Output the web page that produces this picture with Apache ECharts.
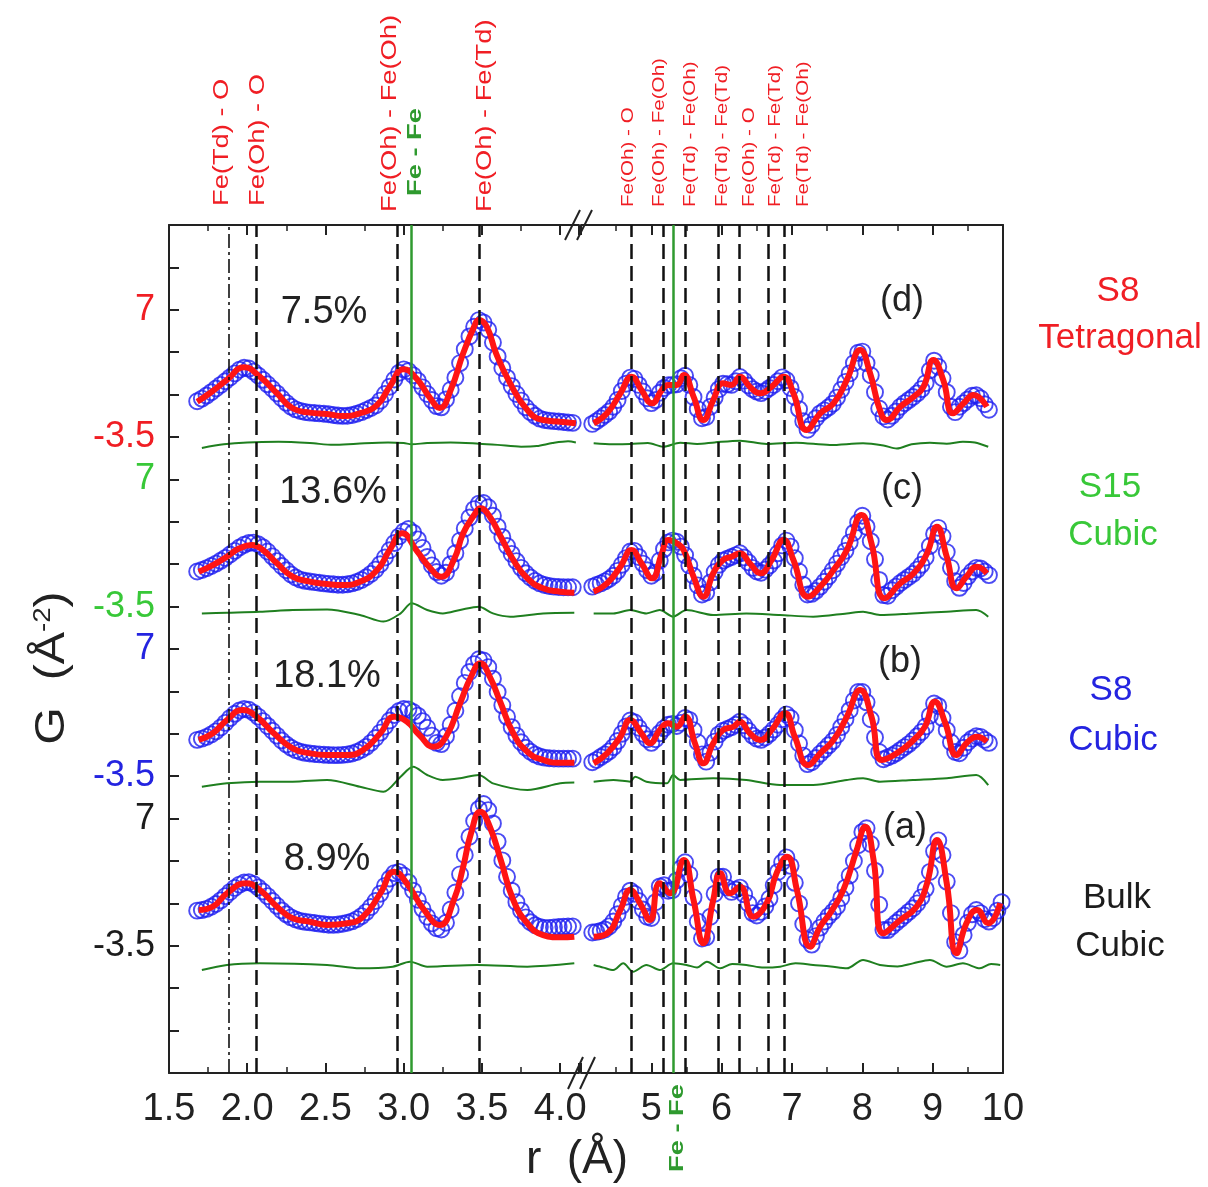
<!DOCTYPE html>
<html><head><meta charset="utf-8">
<script src="https://cdn.jsdelivr.net/npm/echarts@6/dist/echarts.min.js"></script>
<style>html,body{margin:0;padding:0;background:#fff}#c{width:1208px;height:1187px}</style>
</head><body><div id="c"></div>
<script>
// ---------------- DATA ----------------
// panels bottom -> top : (a) Bulk Cubic, (b) S8 Cubic, (c) S15 Cubic, (d) S8 Tetragonal
const panelKeys = ['a','b','c','d'];
const panelOffsets = [0, 14, 28, 42];          // stacking offsets in G units
const percentLabels = ['8.9%','18.1%','13.6%','7.5%'];
const panelLabels = ['(a)','(b)','(c)','(d)'];

// observed G(r) (blue circles) on uniform r grids
const obsLeftStart = 1.68, obsLeftStep = 0.03;   // 1.68 ... 4.08
const obsRightStart = 4.16, obsRightStep = 0.06; // 4.16 ... 9.80 (a: 9.98)

const obsLeftA = [
 -0.6,-0.55,-0.45,-0.28,-0.05,0.25,0.6,0.95,1.28,1.55,
 1.72,1.75,1.6,1.32,0.98,0.6,0.2,-0.2,-0.58,-0.9,
 -1.15,-1.33,-1.45,-1.52,-1.57,-1.62,-1.67,-1.72,-1.76,-1.77,
 -1.74,-1.68,-1.6,-1.48,-1.3,-1.05,-0.72,-0.3,0.2,0.8,
 1.45,2.05,2.5,2.6,2.3,1.75,1.05,0.3,-0.45,-1.1,
 -1.65,-2.05,-2.15,-1.6,-0.5,0.9,2.4,4.0,5.5,6.8,
 7.8,8.2,7.7,6.6,5.1,3.55,2.2,1.05,0.1,-0.6,
 -1.15,-1.55,-1.8,-1.95,-2.02,-2.02,-1.98,-1.95,-1.92,-1.9,
 -1.9];
const obsLeftB = [
 -0.5,-0.4,-0.25,-0.05,0.2,0.52,0.9,1.3,1.65,1.92,
 2.05,1.98,1.75,1.42,1.05,0.65,0.25,-0.15,-0.55,-0.88,
 -1.15,-1.35,-1.48,-1.57,-1.63,-1.67,-1.7,-1.73,-1.75,-1.76,
 -1.76,-1.74,-1.7,-1.62,-1.5,-1.32,-1.08,-0.75,-0.35,0.1,
 0.6,1.1,1.55,1.88,2.05,2.02,1.8,1.5,1.05,0.5,
 -0.15,-0.75,-0.85,-0.2,0.75,1.9,3.1,4.2,5.1,5.75,
 6.15,6.05,5.5,4.55,3.45,2.35,1.4,0.55,-0.15,-0.7,
 -1.15,-1.48,-1.72,-1.88,-1.97,-2.02,-2.04,-2.05,-2.05,-2.05,
 -2.05];
const obsLeftC = [
 -0.6,-0.48,-0.33,-0.15,0.05,0.28,0.52,0.8,1.1,1.38,
 1.6,1.75,1.78,1.65,1.4,1.05,0.65,0.25,-0.15,-0.5,
 -0.85,-1.1,-1.27,-1.37,-1.43,-1.48,-1.53,-1.58,-1.62,-1.66,
 -1.7,-1.7,-1.66,-1.58,-1.47,-1.3,-1.08,-0.8,-0.45,0.0,
 0.55,1.15,1.75,2.3,2.7,2.9,2.6,2.05,1.35,0.6,
 -0.1,-0.65,-0.95,-0.7,0.0,0.9,1.95,2.95,3.85,4.55,
 5.0,5.05,4.7,4.0,3.1,2.25,1.5,0.85,0.25,-0.3,
 -0.75,-1.1,-1.38,-1.58,-1.72,-1.8,-1.85,-1.88,-1.9,-1.9,
 -1.9];
const obsLeftD = [
 -0.55,-0.33,-0.08,0.2,0.5,0.8,1.1,1.42,1.75,2.05,
 2.22,2.15,1.9,1.58,1.22,0.85,0.48,0.1,-0.3,-0.68,
 -1.0,-1.22,-1.35,-1.44,-1.49,-1.52,-1.55,-1.58,-1.62,-1.68,
 -1.73,-1.76,-1.74,-1.68,-1.58,-1.45,-1.28,-1.1,-0.9,-0.5,
 0.05,0.65,1.25,1.8,2.08,1.95,1.6,1.15,0.6,0.05,
 -0.45,-0.95,-1.05,-0.4,0.4,1.4,2.6,3.75,4.8,5.6,
 6.15,5.95,5.35,4.3,3.15,2.2,1.4,0.7,0.05,-0.5,
 -1.05,-1.45,-1.75,-1.98,-2.1,-2.15,-2.19,-2.22,-2.26,-2.3,
 -2.33];

const obsRightA = [
 -2.4,-2.35,-2.28,-2.15,-1.9,-1.5,-0.9,-0.2,0.55,1.05,
 0.8,0.2,-0.5,-1.1,-1.2,0.1,1.4,1.5,1.05,1.1,
 1.9,2.9,3.4,2.4,0.5,-1.5,-2.9,-2.8,-1.1,0.8,
 2.2,2.2,1.3,0.95,1.15,1.3,0.75,0.0,-0.8,-1.0,
 -0.7,-0.25,0.4,1.5,2.6,3.4,3.8,3.1,1.7,0.0,
 -1.7,-3.0,-3.4,-2.7,-2.0,-1.5,-1.05,-0.7,-0.25,0.45,
 1.3,2.3,3.5,4.8,5.9,6.2,4.9,2.7,-0.1,-2.2,
 -2.2,-1.9,-1.6,-1.3,-1.0,-0.7,-0.4,0.0,0.5,1.2,
 2.6,4.3,5.2,4.0,1.8,-0.8,-3.2,-3.9,-2.6,-1.6,
 -0.9,-0.55,-0.8,-1.3,-1.5,-1.2,-0.6,0.1];
const obsRightB = [
 -2.35,-2.15,-1.92,-1.7,-1.45,-1.1,-0.6,0.0,0.6,1.1,
 0.95,0.5,0.0,-0.45,-0.75,-0.45,0.05,0.45,0.75,0.82,
 0.65,0.9,1.3,1.15,0.3,-0.7,-1.7,-2.3,-1.55,-0.65,
 -0.05,0.25,0.4,0.55,0.75,1.0,0.7,0.25,-0.15,-0.4,
 -0.5,-0.3,0.0,0.35,0.75,1.2,1.6,1.3,0.3,-0.8,
 -1.8,-2.5,-2.35,-2.0,-1.65,-1.3,-0.95,-0.6,-0.1,0.55,
 1.2,1.95,2.75,3.45,3.45,2.6,1.2,-0.3,-1.5,-2.1,
 -1.95,-1.8,-1.6,-1.35,-1.1,-0.85,-0.55,-0.2,0.15,0.6,
 1.5,2.5,2.3,1.3,0.3,-0.7,-1.5,-1.6,-1.15,-0.7,
 -0.4,-0.2,-0.25,-0.5,-0.75];
const obsRightC = [
 -1.85,-1.72,-1.58,-1.42,-1.22,-0.95,-0.55,-0.05,0.5,1.05,
 1.1,0.6,0.05,-0.5,-0.95,-0.7,0.3,1.25,1.8,1.95,
 1.85,1.45,0.75,-0.1,-0.95,-1.75,-2.5,-2.35,-1.5,-0.65,
 -0.05,0.3,0.45,0.6,0.75,0.9,0.55,0.15,-0.3,-0.6,
 -0.7,-0.45,-0.1,0.3,0.9,1.55,1.95,1.45,0.5,-0.6,
 -1.7,-2.5,-2.45,-2.2,-1.85,-1.45,-1.0,-0.5,0.05,0.6,
 1.1,1.8,2.6,3.45,4.0,3.1,1.9,0.4,-1.3,-2.55,
 -2.6,-2.15,-1.85,-1.55,-1.3,-1.05,-0.8,-0.45,-0.05,0.55,
 1.5,2.5,3.0,2.3,1.0,-0.3,-1.4,-1.95,-1.55,-1.0,
 -0.6,-0.3,-0.35,-0.6,-0.9];
const obsRightD = [
 -2.42,-2.2,-1.95,-1.68,-1.4,-1.0,-0.45,0.3,0.9,1.4,
 1.3,0.8,0.25,-0.3,-0.7,-0.45,0.15,0.55,0.78,0.8,
 0.85,1.35,1.55,0.8,-0.2,-1.2,-1.95,-1.85,-1.0,-0.25,
 0.45,0.9,0.85,0.8,1.1,1.45,1.15,0.75,0.45,0.25,
 0.12,0.3,0.55,0.8,1.1,1.42,1.2,0.55,-0.2,-1.2,
 -2.2,-2.9,-2.5,-1.95,-1.55,-1.3,-1.05,-0.75,-0.25,0.4,
 1.05,1.75,2.6,3.45,3.55,2.6,1.6,0.2,-1.15,-1.8,
 -2.05,-1.75,-1.4,-1.0,-0.7,-0.45,-0.2,0.1,0.45,0.95,
 2.0,2.8,2.3,1.35,0.2,-1.0,-1.45,-1.0,-0.7,-0.4,
 -0.1,-0.05,-0.3,-0.8,-1.25];

// fitted G(r) (red line), [r, G]
const fitLeftA = [[1.69,-0.54],[1.78,-0.27],[1.87,0.83],[1.99,1.66],[2.08,1.11],[2.19,-0.27],[2.29,-1.23],[2.40,-1.51],[2.51,-1.78],[2.64,-1.64],[2.74,-1.10],[2.85,0.83],[2.94,2.62],[3.02,1.66],[3.13,-0.54],[3.23,-1.78],[3.32,0.28],[3.38,3.03],[3.43,5.79],[3.49,7.57],[3.55,6.33],[3.62,3.58],[3.70,0.28],[3.79,-1.64],[3.89,-2.61],[4.00,-2.80],[4.09,-2.75]];
const fitLeftB = [[1.69,-0.51],[1.78,0.04],[1.87,1.14],[1.97,1.96],[2.06,1.41],[2.17,0.04],[2.29,-1.20],[2.40,-1.61],[2.51,-1.75],[2.64,-1.75],[2.74,-1.34],[2.85,0.04],[2.94,1.41],[3.02,1.00],[3.10,-0.10],[3.19,-1.06],[3.27,-0.24],[3.36,2.52],[3.43,4.71],[3.49,5.82],[3.55,4.71],[3.62,2.52],[3.70,0.04],[3.79,-1.48],[3.89,-2.16],[4.00,-2.39],[4.09,-2.39]];
const fitLeftC = [[1.69,-0.62],[1.78,-0.07],[1.87,0.62],[1.95,1.31],[2.03,1.58],[2.10,1.17],[2.19,0.07],[2.29,-1.03],[2.40,-1.44],[2.51,-1.63],[2.61,-1.72],[2.72,-1.44],[2.83,-0.48],[2.91,1.17],[2.99,2.55],[3.08,1.17],[3.17,-0.34],[3.24,-1.03],[3.32,0.35],[3.38,2.55],[3.45,4.06],[3.49,4.61],[3.55,3.92],[3.62,2.27],[3.70,0.35],[3.79,-1.16],[3.89,-1.99],[4.00,-2.27],[4.09,-2.35]];
const fitLeftD = [[1.68,-0.59],[1.76,0.11],[1.87,1.21],[1.98,2.25],[2.08,1.48],[2.19,0.11],[2.29,-1.13],[2.40,-1.49],[2.51,-1.60],[2.61,-1.77],[2.72,-1.54],[2.83,-0.86],[2.91,0.65],[3.00,2.10],[3.08,1.35],[3.17,-0.31],[3.23,-1.1],[3.30,0.38],[3.38,3.41],[3.45,5.61],[3.48,6.16],[3.53,5.61],[3.59,3.41],[3.68,0.93],[3.79,-1.27],[3.89,-2.10],[4.00,-2.24],[4.10,-2.37]];

const fitRightA = [[4.18,-2.75],[4.37,-2.47],[4.56,-0.54],[4.70,1.11],[4.84,0.01],[4.98,-1.37],[5.12,1.66],[5.27,0.83],[5.46,3.58],[5.60,0.28],[5.74,-3.29],[5.88,0.28],[5.98,2.48],[6.12,0.83],[6.26,1.38],[6.45,-1.10],[6.64,0.01],[6.78,2.48],[6.93,3.86],[7.07,1.11],[7.26,-3.57],[7.40,-1.92],[7.54,-0.82],[7.73,1.11],[7.92,4.41],[8.04,6.33],[8.16,3.58],[8.30,-2.47],[8.54,-1.37],[8.77,-0.27],[8.92,1.66],[9.06,5.23],[9.20,1.66],[9.34,-4.12],[9.48,-1.64],[9.63,-0.54],[9.79,-1.64],[9.96,0.01]];
const fitRightB = [[4.18,-2.44],[4.37,-1.61],[4.56,-0.24],[4.70,1.14],[4.86,0.04],[4.98,-0.78],[5.12,0.31],[5.24,0.87],[5.36,0.59],[5.48,1.41],[5.62,-0.78],[5.74,-2.44],[5.88,-0.78],[6.02,0.31],[6.17,0.59],[6.26,1.00],[6.40,0.04],[6.55,-0.51],[6.71,0.31],[6.90,1.69],[7.04,-0.24],[7.23,-2.58],[7.40,-1.61],[7.59,-0.51],[7.78,1.41],[7.97,3.62],[8.13,1.41],[8.28,-2.16],[8.49,-1.61],[8.73,-0.51],[8.89,0.59],[9.03,2.65],[9.18,0.87],[9.34,-1.75],[9.48,-0.78],[9.63,-0.24],[9.77,-0.65]];
const fitRightC = [[4.18,-2.27],[4.37,-1.58],[4.56,-0.21],[4.72,1.17],[4.86,0.07],[5.01,-1.16],[5.15,0.90],[5.24,2.00],[5.36,1.73],[5.46,1.17],[5.60,-1.03],[5.74,-2.68],[5.88,-0.75],[6.02,0.35],[6.14,0.62],[6.26,0.90],[6.40,0.07],[6.55,-0.75],[6.71,0.35],[6.88,2.00],[7.02,0.35],[7.23,-2.68],[7.40,-1.86],[7.59,-0.48],[7.78,1.17],[7.99,4.06],[8.13,1.73],[8.32,-2.81],[8.54,-1.58],[8.73,-0.75],[8.92,0.90],[9.06,3.10],[9.20,0.62],[9.34,-1.99],[9.48,-1.03],[9.63,-0.21],[9.77,-0.75]];
const fitRightD = [[4.18,-2.37],[4.37,-1.54],[4.56,0.11],[4.72,1.48],[4.86,0.38],[5.01,-0.72],[5.15,0.38],[5.24,0.79],[5.36,0.79],[5.46,1.62],[5.60,-0.17],[5.74,-2.10],[5.88,-0.45],[6.02,0.93],[6.14,0.79],[6.26,1.48],[6.40,0.65],[6.55,0.11],[6.71,0.65],[6.88,1.48],[7.02,0.11],[7.21,-2.92],[7.40,-1.54],[7.59,-0.72],[7.78,1.21],[7.97,3.68],[8.11,1.76],[8.25,-1.27],[8.35,-2.10],[8.54,-1.00],[8.73,-0.17],[8.87,0.65],[9.01,2.86],[9.15,1.21],[9.29,-1.54],[9.44,-0.72],[9.58,-0.03],[9.77,-1.0]];

// difference curves (green), [r, G] as plotted under each panel
const diffLeftA = [[1.71,-5.5],[1.87,-5.08],[2.08,-4.95],[2.51,-5.08],[2.72,-5.36],[2.93,-5.22],[3.04,-4.81],[3.15,-5.22],[3.47,-5.08],[3.79,-5.22],[4.09,-4.95]];
const diffLeftB = [[1.71,-4.37],[1.87,-4.09],[2.08,-3.95],[2.29,-3.95],[2.51,-3.81],[2.72,-4.37],[2.87,-4.78],[2.98,-3.54],[3.06,-2.72],[3.15,-3.40],[3.25,-3.81],[3.36,-3.67],[3.48,-3.40],[3.57,-4.09],[3.79,-4.64],[4.0,-4.09],[4.09,-4.03]];
const diffLeftC = [[1.71,-4.06],[1.87,-4.0],[2.08,-3.92],[2.29,-3.78],[2.51,-3.73],[2.72,-4.19],[2.87,-4.74],[2.98,-4.06],[3.05,-3.23],[3.15,-3.78],[3.25,-4.06],[3.36,-3.78],[3.48,-3.51],[3.57,-4.06],[3.68,-4.33],[3.89,-4.06],[4.09,-4.0]];
const diffLeftD = [[1.71,-4.4],[1.85,-4.1],[2.0,-3.95],[2.2,-3.9],[2.4,-4.0],[2.55,-4.15],[2.7,-4.05],[2.9,-3.95],[3.0,-4.0],[3.05,-4.1],[3.15,-4.0],[3.3,-3.95],[3.48,-4.05],[3.6,-4.15],[3.75,-4.3],[3.85,-4.25],[3.95,-4.0],[4.05,-3.85],[4.1,-3.95]];

const diffRightA = [[4.18,-5.08],[4.32,-5.3],[4.46,-5.5],[4.6,-4.95],[4.74,-5.64],[4.93,-5.08],[5.12,-5.5],[5.31,-4.95],[5.5,-5.08],[5.65,-5.3],[5.79,-4.81],[5.98,-5.36],[6.15,-5.0],[6.35,-5.08],[6.6,-5.3],[6.83,-5.22],[7.05,-4.95],[7.3,-5.08],[7.55,-5.2],[7.78,-5.36],[8.01,-4.67],[8.25,-5.08],[8.5,-5.2],[8.72,-4.95],[8.96,-4.67],[9.2,-5.22],[9.43,-4.95],[9.67,-5.36],[9.83,-5.0],[9.96,-5.08]];
const diffRightB = [[4.18,-3.95],[4.46,-3.81],[4.7,-3.95],[4.77,-3.54],[4.93,-3.95],[5.22,-4.09],[5.31,-3.40],[5.41,-3.81],[5.88,-3.67],[6.35,-3.81],[6.83,-4.23],[7.3,-4.23],[7.78,-3.81],[8.01,-3.67],[8.25,-3.95],[8.72,-3.81],[9.2,-3.67],[9.62,-3.40],[9.79,-4.23]];
const diffRightC = [[4.18,-4.06],[4.46,-4.06],[4.7,-3.78],[4.93,-4.06],[5.12,-3.78],[5.31,-4.33],[5.5,-3.78],[5.88,-4.19],[6.35,-4.06],[6.83,-4.19],[7.3,-4.33],[7.78,-4.06],[8.01,-3.92],[8.25,-4.19],[8.72,-4.06],[9.2,-3.92],[9.62,-3.78],[9.79,-4.33]];
const diffRightD = [[4.18,-4.02],[4.45,-4.1],[4.7,-4.08],[4.95,-4.0],[5.17,-4.3],[5.41,-3.97],[5.65,-4.08],[5.9,-3.95],[6.26,-3.8],[6.64,-4.08],[7.06,-3.97],[7.54,-4.16],[8.01,-4.02],[8.3,-4.2],[8.49,-4.45],[8.7,-4.1],[8.96,-3.97],[9.2,-4.05],[9.43,-3.89],[9.6,-3.95],[9.79,-4.3]];

// reference bond distances (vertical lines)
const leftDashDot = [1.877];
const leftDashed = [2.056, 2.963, 3.481];
const leftGreen = [3.046];
const rightDashed = [4.724, 5.165, 5.478, 5.947, 6.246, 6.659, 6.886];
const rightGreen = [5.307];

// axes
const xLeftRange = [1.5, 4.12], xLeftInterval = 0.5;
const xRightRange = [4, 10], xRightInterval = 1;
const yRange = [-14, 56], yInterval = 3.5;
const yLabelValues = [-3.5, 7, 10.5, 21, 24.5, 35, 38.5, 49];
const yLabelTexts  = ['-3.5','7','-3.5','7','-3.5','7','-3.5','7'];
const yLabelStyles = ['k','k','b','b','g','g','r','r'];

// text
const sampleNames = [['Bulk','Cubic'],['S8','Cubic'],['S15','Cubic'],['S8','Tetragonal']];
const leftBondTexts = ['Fe(Td) - O','Fe(Oh) - O','Fe(Oh) - Fe(Oh)','Fe(Oh) - Fe(Td)'];
const rightBondTexts = ['Fe(Oh) - O','Fe(Oh) - Fe(Oh)','Fe(Td) - Fe(Oh)','Fe(Td) - Fe(Td)','Fe(Oh) - O','Fe(Td) - Fe(Td)','Fe(Td) - Fe(Oh)'];
const feFeText = 'Fe - Fe';

// ---------------- BUILD ----------------
const FONT = '"Liberation Sans", Arial, Helvetica, sans-serif';
const C = { red:'#f01e24', green:'#38c838', blue:'#2424e0', black:'#1c1c1c',
            line:'#ff1414', circ:'#1e1ef0', diff:'#1f7f1f', vgreen:'#2f9a2f' };
const panelColors = [C.black, C.blue, C.green, C.red];

const obsLeft = [obsLeftA, obsLeftB, obsLeftC, obsLeftD];
const obsRight = [obsRightA, obsRightB, obsRightC, obsRightD];
const fitLeft = [fitLeftA, fitLeftB, fitLeftC, fitLeftD];
const fitRight = [fitRightA, fitRightB, fitRightC, fitRightD];
const diffLeft = [diffLeftA, diffLeftB, diffLeftC, diffLeftD];
const diffRight = [diffRightA, diffRightB, diffRightC, diffRightD];

const onGrid = (start, step, vals, off) => vals.map((v,i)=>[+(start+i*step).toFixed(3), v+off]);
const shift = (pairs, off) => pairs.map(p=>[p[0], p[1]+off]);

const chart = echarts.init(document.getElementById('c'));

function xAxisDef(gi, pos, range, interval, showLabel, fmt){
  return { type:'value', gridIndex:gi, position:pos, min:range[0], max:range[1], interval,
    splitLine:{show:false},
    axisLine:{show:true, onZero:false, lineStyle:{color:'#222', width:2}},
    axisTick:{show:true, inside:true, length:10, lineStyle:{color:'#222', width:2}},
    minorTick:{show:true, splitNumber:2, length:6, lineStyle:{color:'#222', width:1.5}},
    axisLabel:{show:showLabel, formatter:fmt, fontSize:38, color:'#222', fontFamily:FONT, margin:18}
  };
}
const fmtLeft = v => Math.abs(v*2 - Math.round(v*2)) < 1e-6 ? v.toFixed(1) : '';
const fmtRight = v => (Math.abs(v - Math.round(v)) < 1e-6 && v >= 5) ? String(Math.round(v)) : '';

const richY = {};
const richCol = {k:C.black, b:C.blue, g:C.green, r:C.red};
Object.keys(richCol).forEach(k => richY[k] = {color:richCol[k], fontSize:36, fontFamily:FONT});

const series = [];
function refLines(vals, style){ return vals.map(x => ({xAxis:x, lineStyle:style})); }
const dashStyle = {type:[15,7], color:'#111', width:2.5};
const dashDotStyle = {type:[14,4,3,4], color:'#111', width:1.6};
const greenStyle = {type:'solid', color:C.vgreen, width:2.5};
[0,1].forEach(s => {
  series.push({ type:'line', xAxisIndex: s===0?0:2, yAxisIndex: s===0?0:1, data:[], z:1, silent:true,
    markLine:{ silent:true, symbol:['none','none'], label:{show:false}, animation:false,
      data: s===0
        ? [].concat(refLines(leftDashDot, dashDotStyle), refLines(leftDashed, dashStyle), refLines(leftGreen, greenStyle))
        : [].concat(refLines(rightDashed, dashStyle), refLines(rightGreen, greenStyle)) } });
});

for (let p=0; p<4; p++){
  const off = panelOffsets[p];
  [0,1].forEach(s => {
    const xi = s===0?0:2, yi = s===0?0:1;
    const obs = s===0 ? onGrid(obsLeftStart, obsLeftStep, obsLeft[p], off)
                      : onGrid(obsRightStart, obsRightStep, obsRight[p], off);
    series.push({ type:'scatter', xAxisIndex:xi, yAxisIndex:yi, data:obs, z:3, silent:true,
      symbol:'circle', symbolSize:16,
      itemStyle:{color:'rgba(0,0,0,0)', borderColor:C.circ, borderWidth:1.9} });
    series.push({ type:'line', xAxisIndex:xi, yAxisIndex:yi, data: shift(s===0?fitLeft[p]:fitRight[p], off),
      smooth:0.5, showSymbol:false, z:4, silent:true, lineStyle:{color:C.line, width:6} });
    series.push({ type:'line', xAxisIndex:xi, yAxisIndex:yi, data: shift(s===0?diffLeft[p]:diffRight[p], off),
      smooth:0.3, showSymbol:false, z:2, silent:true, lineStyle:{color:C.diff, width:2} });
  });
}

// ---- annotations (pixel layout) ----
const g = [];
function vtext(x, y, text, size, color, scale, bold){
  g.push({ type:'text', x, y, rotation:Math.PI/2, scaleX:scale, scaleY:1, z:10,
    style:{ text, fontSize:size, fontFamily:FONT, fontWeight: bold?'bold':'normal', fill:color,
      align:'left', verticalAlign:'middle', textAlign:'left', textVerticalAlign:'middle' } });
}
function htext(x, y, text, size, color){
  g.push({ type:'text', x, y, z:10,
    style:{ text, fontSize:size, fontFamily:FONT, fill:color,
      align:'center', verticalAlign:'middle', textAlign:'center', textVerticalAlign:'middle' } });
}
const leftBondX = [222, 258, 390, 485], leftBondY = [206, 206, 212, 212];
leftBondTexts.forEach((t,i)=> vtext(leftBondX[i], leftBondY[i], t, 22, C.red, 1.24));
vtext(415, 196, feFeText, 21, C.vgreen, 1.3, true);
const rightBondX = [628, 659, 690, 722, 749, 775, 803];
rightBondTexts.forEach((t,i)=> vtext(rightBondX[i], 207, t, 16.5, C.red, 1.25));
vtext(677, 1172, feFeText, 21, C.vgreen, 1.3, true);

const pctPos = [[327,860],[327,677],[333,493],[324,313]];
const lblPos = [[905,828],[900,662],[902,489],[902,301]];
const namePos = [[[1117,898],[1120,946]],[[1111,690],[1113,740]],[[1110,487],[1113,535]],[[1118,291],[1120,338]]];
for (let p=0;p<4;p++){
  htext(pctPos[p][0], pctPos[p][1], percentLabels[p], 38, '#222');
  htext(lblPos[p][0], lblPos[p][1], panelLabels[p], 36, '#222');
  htext(namePos[p][0][0], namePos[p][0][1], sampleNames[p][0], 35, panelColors[p]);
  htext(namePos[p][1][0], namePos[p][1][1], sampleNames[p][1], 35, panelColors[p]);
}
// axis titles
htext(577, 1160, 'r  (Å)', 46, '#222');
g.push({ type:'text', x:52, y:668, rotation:Math.PI/2, scaleX:1.15, z:10,
  style:{ text:'{n|G  (Å}{s|-2}{n|)}', align:'center', verticalAlign:'middle', textAlign:'center', textVerticalAlign:'middle',
    rich:{ n:{fontSize:42, fontFamily:FONT, fill:'#222', color:'#222'}, s:{fontSize:24, fontFamily:FONT, fill:'#222', color:'#222', verticalAlign:'top'} } } });
// axis break marks
[[565,240,580,210],[577,240,592,210],[568,1089,583,1057],[580,1089,595,1057]].forEach(l =>
  g.push({ type:'line', z:10, shape:{x1:l[0],y1:l[1],x2:l[2],y2:l[3]}, style:{stroke:'#222', lineWidth:2} }));

chart.setOption({
  animation:false,
  backgroundColor:'#fff',
  grid:[ {left:169, top:225, width:410, height:848}, {left:581, top:225, width:422, height:848} ],
  xAxis:[ xAxisDef(0,'bottom',xLeftRange,xLeftInterval,true,fmtLeft),
          xAxisDef(0,'top',xLeftRange,xLeftInterval,false,fmtLeft),
          xAxisDef(1,'bottom',xRightRange,xRightInterval,true,fmtRight),
          xAxisDef(1,'top',xRightRange,xRightInterval,false,fmtRight) ],
  yAxis:[ { type:'value', gridIndex:0, position:'left', min:yRange[0], max:yRange[1], interval:yInterval,
            splitLine:{show:false},
            axisLine:{show:true, onZero:false, lineStyle:{color:'#222', width:2}},
            axisTick:{show:true, inside:true, length:10, lineStyle:{color:'#222', width:2}},
            axisLabel:{ margin:14, fontSize:36, fontFamily:FONT, rich:richY,
              formatter: v => { const i = yLabelValues.findIndex(u => Math.abs(u-v)<1e-6);
                                return i<0 ? '' : '{'+yLabelStyles[i]+'|'+yLabelTexts[i]+'}'; } } },
          { type:'value', gridIndex:1, position:'right', min:yRange[0], max:yRange[1], interval:yInterval,
            splitLine:{show:false}, axisTick:{show:false}, axisLabel:{show:false},
            axisLine:{show:true, onZero:false, lineStyle:{color:'#222', width:2}} } ],
  series,
  graphic: g
});
</script></body></html>
